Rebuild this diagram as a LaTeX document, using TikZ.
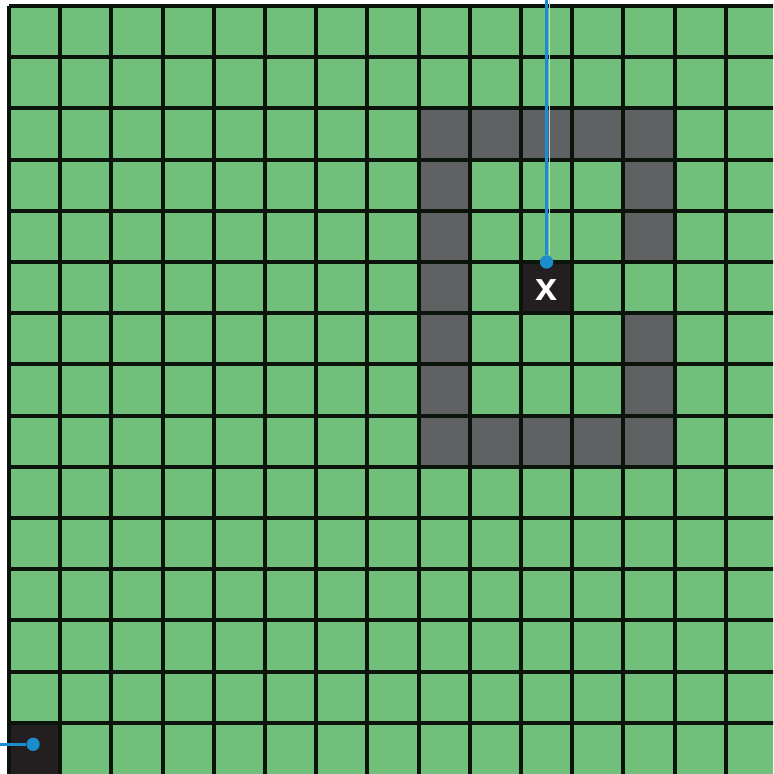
\documentclass[tikz,border=0pt]{standalone}
\usepackage{fontspec}
\setmainfont{Liberation Sans}
\definecolor{cellgreen}{RGB}{114,191,124}
\definecolor{wallgray}{RGB}{96,97,99}
\definecolor{cellblack}{RGB}{35,31,32}
\definecolor{linedark}{RGB}{10,20,10}
\definecolor{wireblue}{RGB}{27,140,204}
\begin{document}
\begin{tikzpicture}[x=1cm, y=-1cm,
        wall/.style = {fill=wallgray},
        goal/.style = {fill=cellblack},
        gridline/.style = {draw=linedark, line width=2.2pt},
        dot/.style = {circle, fill=wireblue, inner sep=0pt, minimum size=0.26cm},
        wire/.style = {draw=wireblue, line width=1.7pt},
        glint/.style = {draw=white!65!wireblue, line width=0.9pt},
        cross/.style = {text=white, font=\bfseries\fontsize{22}{22}\selectfont, inner sep=0pt}]
    \useasboundingbox (-0.176,-0.117) rectangle (14.922,15.0);
    \clip (-0.176,-0.117) rectangle (14.922,15.0);
    \fill[cellgreen] (0,0) rectangle (15,15);

    % walls
    \foreach \c in {8,...,12} {
        \fill[wall] (\c,2) rectangle ++(1,1);
        \fill[wall] (\c,8) rectangle ++(1,1);
    }
    \foreach \r in {3,...,7} \fill[wall] (8,\r) rectangle ++(1,1);
    \foreach \r in {3,4,6,7} \fill[wall] (12,\r) rectangle ++(1,1);
    \fill[goal] (10,5) rectangle ++(1,1);
    \fill[goal] (0,14) rectangle ++(1,1);

    % grid
    \foreach \i in {0,...,14} {
        \draw[gridline] (\i,0) -- (\i,15);
        \draw[gridline] (0,\i) -- (15,\i);
    }

    \node[cross] (x) at (10.5,5.55) {x};
    \node[dot] (d1) at (10.5,5.0) {};
    \node[dot] (d2) at (0.47,14.42) {};
    \coordinate (t1) at (10.5,-0.117);
    \coordinate (t2) at (-0.176,14.42);

    \draw[glint] ([xshift=1.5pt]t1) -- ([xshift=1.5pt]d1.north);
    \draw[wire] (t1) -- (d1);
    \draw[wire] (t2) -- (d2);
\end{tikzpicture}
\end{document}
